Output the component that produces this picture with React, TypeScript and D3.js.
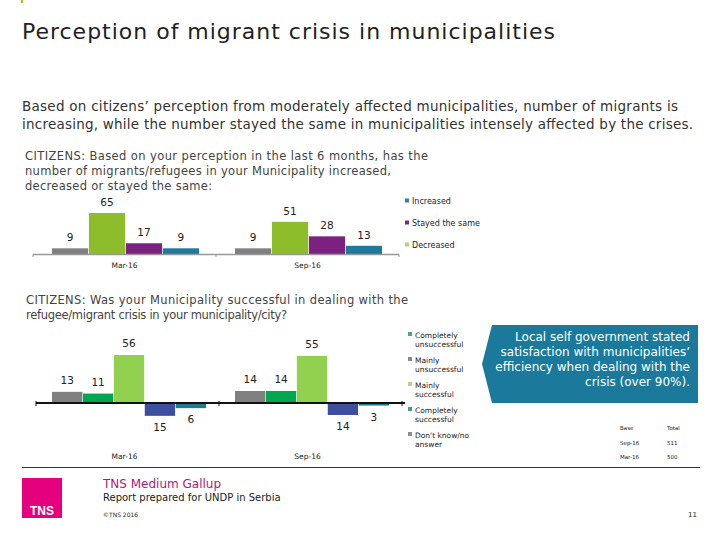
import React from "react";
import * as d3 from "d3";

// ---------- data ----------
const categories = ["Mar-16", "Sep-16"];

// chart 1: bars drawn in this order
const topSeries = ["Don't know", "Decreased", "Stayed the same", "Increased"];
const topValues = [
  [9, 9], // Don't know
  [65, 51], // Decreased
  [17, 28], // Stayed the same
  [9, 13], // Increased
];
const topLegend = ["Increased", "Stayed the same", "Decreased"];

// chart 2
const botSeries = ["Don't know/no answer", "Completely successful", "Mainly successful", "Mainly unsuccessful", "Completely unsuccessful"];
const botValues = [
  [13, 14],
  [11, 14],
  [56, 55],
  [-15, -14],
  [-6, -3],
];
const botLegend = [
  ["Completely", "unsuccessful"],
  ["Mainly", "unsuccessful"],
  ["Mainly", "successful"],
  ["Completely", "successful"],
  ["Don't know/no", "answer"],
];

const baseRows = [
  ["Base", "Total"],
  ["Sep-16", "511"],
  ["Mar-16", "500"],
];

// ---------- styles ----------
const topColors = ["#808080", "#8dbd2a", "#7b2180", "#1f7a9a"];
const topLegendColors = ["#3f7f8f", "#7a2a7a", "#b8d07a"];
const botColors = ["#808080", "#00a651", "#92d050", "#3f4fa0", "#1f7a8a"];
const botLegendColors = ["#5a9a9a", "#8a8a8a", "#b8d08a", "#3aa08a", "#909090"];

const F = "'DejaVu Sans', Verdana, sans-serif";

const q1 = [
  { t: "CITIZENS: Based on your perception in the last 6 months, has the", w: 403 },
  { t: "number of migrants/refugees in your Municipality increased,", w: 366 },
  { t: "decreased or stayed the same:", w: 187 },
];
const q2 = [
  { t: "CITIZENS: Was your Municipality successful in dealing with the", w: 382 },
  { t: "refugee/migrant crisis in your municipality/city?", w: 261 },
];

export default function App() {
  // chart 1 scales
  const x0t = d3.scaleBand<string>().domain(categories).range([33, 399]);
  const x1t = d3.scaleBand<string>().domain(topSeries).range([19, 166]).paddingInner(0.02);
  const yt = d3.scaleLinear().domain([0, 65]).range([254, 213]);

  // chart 2 scales
  const x0b = d3.scaleBand<string>().domain(categories).range([36, 402]);
  const x1b = d3.scaleBand<string>().domain(botSeries).range([16, 170]).paddingInner(0.02);
  const yb = d3.scaleLinear().domain([0, 56]).range([403, 355]);

  const callout = "M492,325 L698,325 L698,403 L492,403 L482,364 Z";
  const calloutLines = [
    "Local self government stated",
    "satisfaction with municipalities’",
    "efficiency when dealing with the",
    "crisis (over 90%).",
  ];

  return (
    <svg
      width={720}
      height={540}
      style={{ position: "absolute", left: 0, top: 0, background: "#fff" }}
      fontFamily={F}
    >
      <rect x={0} y={0} width={720} height={540} fill="#fff" />
      <line x1={22} y1={0} x2={22} y2={3} stroke="#e0a020" strokeWidth={2} />

      {/* title */}
      <text x={22} y={39} fontSize={22} fill="#222" textLength={533} lengthAdjust="spacing">
        Perception of migrant crisis in municipalities
      </text>
      <text x={22} y={111} fontSize={13.5} fill="#333" textLength={656} lengthAdjust="spacing">
        Based on citizens’ perception from moderately affected municipalities, number of migrants is
      </text>
      <text x={22} y={129} fontSize={13.5} fill="#333" textLength={671} lengthAdjust="spacing">
        increasing, while the number stayed the same in municipalities intensely affected by the crises.
      </text>

      {/* question 1 */}
      {q1.map((q, i) => (
        <text key={q.t} x={25} y={160 + i * 15} fontSize={11.5} fill="#444" textLength={q.w} lengthAdjust="spacing">
          {q.t}
        </text>
      ))}

      {/* chart 1 bars */}
      {topValues.map((vals, si) =>
        categories.map((c, ci) => {
          const x = (x0t(c) as number) + (x1t(topSeries[si]) as number);
          const w = x1t.bandwidth();
          const v = vals[ci];
          return (
            <g key={`t${si}${ci}`}>
              <rect x={x} y={yt(v)} width={w} height={yt(0) - yt(v)} fill={topColors[si]} />
              <text x={x + w / 2} y={yt(v) - 7} fontSize={10.5} textAnchor="middle" fill="#222">
                {v}
              </text>
            </g>
          );
        })
      )}
      <line x1={33} x2={399} y1={yt(0) + 0.5} y2={yt(0) + 0.5} stroke="#999" strokeWidth={1.5} />
      {[33, x0t(categories[1]) as number, 399].map((x, i) => (
        <line key={i} x1={x} x2={x} y1={yt(0)} y2={yt(0) + 3} stroke="#999" strokeWidth={1} />
      ))}
      {categories.map((c) => (
        <text key={c} x={(x0t(c) as number) + x0t.bandwidth() / 2} y={268} fontSize={7.5} textAnchor="middle" fill="#222">
          {c}
        </text>
      ))}
      {/* legend 1 */}
      {topLegend.map((t, i) => (
        <g key={t}>
          <rect x={405} y={198.5 + i * 22} width={4} height={4} fill={topLegendColors[i]} />
          <text x={412} y={204 + i * 22} fontSize={8} fill="#222">
            {t}
          </text>
        </g>
      ))}

      {/* question 2 */}
      {q2.map((q, i) => (
        <text key={q.t} x={26} y={304 + i * 15} fontSize={11.5} fill="#444" textLength={q.w} lengthAdjust="spacing">
          {q.t}
        </text>
      ))}

      {/* chart 2 bars */}
      {botValues.map((vals, si) =>
        categories.map((c, ci) => {
          const x = (x0b(c) as number) + (x1b(botSeries[si]) as number);
          const w = x1b.bandwidth();
          const v = vals[ci];
          const y0 = Math.min(yb(v), yb(0));
          const h = Math.abs(yb(v) - yb(0));
          const ly = v >= 0 ? yb(v) - 8 : yb(v) + 15;
          return (
            <g key={`b${si}${ci}`}>
              <rect x={x} y={y0} width={w} height={h} fill={botColors[si]} />
              <text x={x + w / 2} y={ly} fontSize={10.5} textAnchor="middle" fill="#222">
                {Math.abs(v)}
              </text>
            </g>
          );
        })
      )}
      <line x1={36} x2={405} y1={yb(0)} y2={yb(0)} stroke="#111" strokeWidth={2} />
      {[36, x0b(categories[1]) as number, 402].map((x, i) => (
        <line key={i} x1={x} x2={x} y1={yb(0) - 2} y2={yb(0) + 3} stroke="#111" strokeWidth={1} />
      ))}
      {categories.map((c) => (
        <text key={c} x={(x0b(c) as number) + x0b.bandwidth() / 2 - 3} y={459} fontSize={7.5} textAnchor="middle" fill="#222">
          {c}
        </text>
      ))}
      {/* legend 2 */}
      {botLegend.map((t, i) => (
        <g key={i}>
          <rect x={408} y={332 + i * 25} width={4} height={4} fill={botLegendColors[i]} />
          <text x={415} y={338 + i * 25} fontSize={7.5} fill="#222">
            {t[0]}
          </text>
          <text x={415} y={347 + i * 25} fontSize={7.5} fill="#222">
            {t[1]}
          </text>
        </g>
      ))}

      {/* callout */}
      <path d={callout} fill="#1b7a9c" />
      {calloutLines.map((t, i) => (
        <text key={t} x={690} y={341 + i * 15} fontSize={12} textAnchor="end" fill="#fff">
          {t}
        </text>
      ))}

      {/* base table */}
      {baseRows.map((r, i) => (
        <g key={i}>
          <text x={620} y={430 + i * 14.5} fontSize={5.5} fill="#222">
            {r[0]}
          </text>
          <text x={667} y={430 + i * 14.5} fontSize={5.5} fill="#222">
            {r[1]}
          </text>
        </g>
      ))}

      {/* footer */}
      <line x1={22} x2={700} y1={467.5} y2={467.5} stroke="#333" strokeWidth={1} />
      <rect x={22} y={478} width={40} height={40} fill="#e5007d" />
      <text x={42} y={515} fontSize={12} fontWeight="bold" textAnchor="middle" fill="#fff" fontFamily="'Liberation Sans Narrow', 'Liberation Sans', sans-serif">
        TNS
      </text>
      <text x={103} y={488} fontSize={12} fill="#b0187a">
        TNS Medium Gallup
      </text>
      <text x={103} y={501} fontSize={10} fill="#222">
        Report prepared for UNDP in Serbia
      </text>
      <text x={103} y={517} fontSize={6} fill="#222">
        ©TNS 2016
      </text>
      <text x={697} y={517} fontSize={7} textAnchor="end" fill="#222">
        11
      </text>
    </svg>
  );
}
